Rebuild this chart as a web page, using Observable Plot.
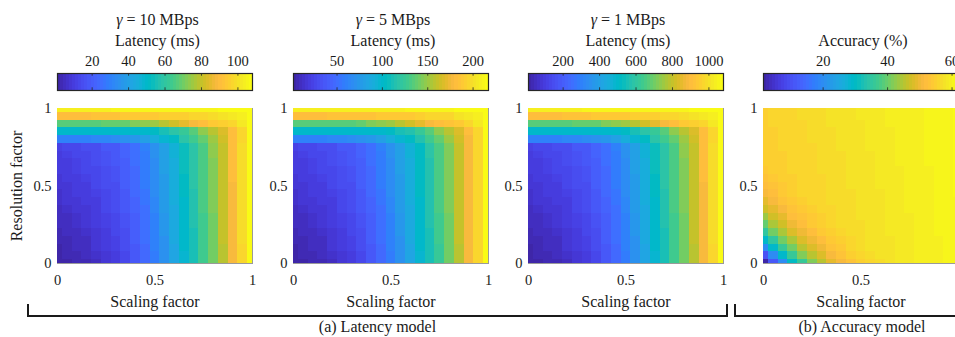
<!DOCTYPE html>
<html><head><meta charset="utf-8">
<script src="https://cdn.jsdelivr.net/npm/d3@7"></script>
<script src="https://cdn.jsdelivr.net/npm/@observablehq/plot@0.6"></script>
<style>
html,body{margin:0;padding:0;background:#fff;}
#fig{position:relative;width:955px;height:337px;overflow:hidden;background:#fff;font-family:'Liberation Serif','Times New Roman',serif;color:#1a1a1a;}
#fig > svg, #fig > div{position:absolute;}
#fig [aria-label="x-axis label"] text, #fig [aria-label="y-axis label"] text{font-size:16px;}
</style></head>
<body><div id="fig"></div>
<script>
// ---------------- data ----------------
const scalingFactor    = [0,0.05,0.1,0.15,0.2,0.25,0.3,0.35,0.4,0.45,0.5,0.55,0.6,0.65,0.7,0.75,0.8,0.85,0.9,0.95,1];
const resolutionFactor = [0,0.05,0.1,0.15,0.2,0.25,0.3,0.35,0.4,0.45,0.5,0.55,0.6,0.65,0.7,0.75,0.8,0.85,0.9,0.95,1];
const axisTicks = [0, 0.5, 1];

// rows: resolution factor 0 -> 1 ; columns: scaling factor 0 -> 1
const latency10 = [
[1,2,3,4,6,8,11,14,18,23,29,35,42,49,56,63,71,79,89,97,108],
[2,3,4,5,7,9,11,14,19,24,29,36,42,49,56,63,71,79,89,97,108],
[2,4,5,6,8,10,12,15,19,24,30,36,42,50,56,63,71,79,89,97,108],
[3,4,5,6,8,10,12,16,20,25,30,36,43,50,56,64,71,80,89,98,108],
[4,5,6,7,9,11,13,16,20,25,31,37,43,50,56,64,71,80,89,98,108],
[5,6,7,8,10,12,13,17,21,26,31,37,43,51,57,64,71,80,89,98,108],
[5,6,7,8,10,12,14,17,21,26,31,37,44,51,57,64,71,80,89,98,108],
[6,7,8,9,11,13,15,18,22,26,32,38,44,51,57,65,72,80,89,98,108],
[7,8,9,10,11,14,15,18,22,27,32,38,45,51,57,65,72,80,89,98,108],
[7,8,10,11,12,14,16,19,23,27,33,38,45,52,57,65,72,80,89,98,108],
[8,9,10,11,13,15,16,20,23,28,33,39,45,52,58,65,72,81,89,98,108],
[9,10,11,12,13,16,17,20,24,28,34,39,46,52,58,65,72,81,90,98,108],
[10,11,12,13,14,16,17,21,24,29,34,40,46,53,58,66,72,81,90,98,108],
[10,11,12,13,15,17,18,21,25,29,34,40,46,53,58,66,72,81,90,98,108],
[11,12,13,14,15,17,19,22,25,29,35,40,47,53,59,66,73,81,90,98,108],
[12,13,14,15,16,18,19,22,26,30,35,41,47,53,59,66,73,81,90,98,108],
[30,30,31,31,32,32,33,35,37,41,45,49,52,58,64,69,75,82,90,97,108],
[50,50,50,50,50,51,51,51,51,51,52,55,58,62,67,74,79,84,91,97,108],
[67,67,67,67,67,68,68,69,72,74,76,79,82,86,89,91,93,95,97,102,108],
[91,91,91,91,92,92,92,93,93,94,94,95,95,96,97,97,98,101,102,104,108],
[104,104,104,104,104,104,105,105,105,105,105,105,106,106,106,106,106,107,107,107,108]];

const latency5 = [
[2,4,6,8,12,16,22,28,36,46,58,70,84,98,112,126,142,158,178,194,216],
[4,6,8,10,14,18,22,28,38,48,58,72,84,98,112,126,142,158,178,194,216],
[4,8,10,12,16,20,24,30,38,48,60,72,84,100,112,126,142,158,178,194,216],
[6,8,10,12,16,20,24,32,40,50,60,72,86,100,112,128,142,160,178,196,216],
[8,10,12,14,18,22,26,32,40,50,62,74,86,100,112,128,142,160,178,196,216],
[10,12,14,16,20,24,26,34,42,52,62,74,86,102,114,128,142,160,178,196,216],
[10,12,14,16,20,24,28,34,42,52,62,74,88,102,114,128,142,160,178,196,216],
[12,14,16,18,22,26,30,36,44,52,64,76,88,102,114,130,144,160,178,196,216],
[14,16,18,20,22,28,30,36,44,54,64,76,90,102,114,130,144,160,178,196,216],
[14,16,20,22,24,28,32,38,46,54,66,76,90,104,114,130,144,160,178,196,216],
[16,18,20,22,26,30,32,40,46,56,66,78,90,104,116,130,144,162,178,196,216],
[18,20,22,24,26,32,34,40,48,56,68,78,92,104,116,130,144,162,180,196,216],
[20,22,24,26,28,32,34,42,48,58,68,80,92,106,116,132,144,162,180,196,216],
[20,22,24,26,30,34,36,42,50,58,68,80,92,106,116,132,144,162,180,196,216],
[22,24,26,28,30,34,38,44,50,58,70,80,94,106,118,132,146,162,180,196,216],
[24,26,28,30,32,36,38,44,52,60,70,82,94,106,118,132,146,162,180,196,216],
[60,60,62,62,64,64,66,70,74,82,90,98,104,116,128,138,150,164,180,194,216],
[100,100,100,100,100,102,102,102,102,102,104,110,116,124,134,148,158,168,182,194,216],
[134,134,134,134,134,136,136,138,144,148,152,158,164,172,178,182,186,190,194,204,216],
[182,182,182,182,184,184,184,186,186,188,188,190,190,192,194,194,196,202,204,208,216],
[208,208,208,208,208,208,210,210,210,210,210,210,212,212,212,212,212,214,214,214,217]];

const latency1 = [
[10,20,30,40,60,80,110,140,180,230,290,350,420,490,560,630,710,790,890,970,1080],
[20,30,40,50,70,90,110,140,190,240,290,360,420,490,560,630,710,790,890,970,1080],
[20,40,50,60,80,100,120,150,190,240,300,360,420,500,560,630,710,790,890,970,1080],
[30,40,50,60,80,100,120,160,200,250,300,360,430,500,560,640,710,800,890,980,1080],
[40,50,60,70,90,110,130,160,200,250,310,370,430,500,560,640,710,800,890,980,1080],
[50,60,70,80,100,120,130,170,210,260,310,370,430,510,570,640,710,800,890,980,1080],
[50,60,70,80,100,120,140,170,210,260,310,370,440,510,570,640,710,800,890,980,1080],
[60,70,80,90,110,130,150,180,220,260,320,380,440,510,570,650,720,800,890,980,1080],
[70,80,90,100,110,140,150,180,220,270,320,380,450,510,570,650,720,800,890,980,1080],
[70,80,100,110,120,140,160,190,230,270,330,380,450,520,570,650,720,800,890,980,1080],
[80,90,100,110,130,150,160,200,230,280,330,390,450,520,580,650,720,810,890,980,1080],
[90,100,110,120,130,160,170,200,240,280,340,390,460,520,580,650,720,810,900,980,1080],
[100,110,120,130,140,160,170,210,240,290,340,400,460,530,580,660,720,810,900,980,1080],
[100,110,120,130,150,170,180,210,250,290,340,400,460,530,580,660,720,810,900,980,1080],
[110,120,130,140,150,170,190,220,250,290,350,400,470,530,590,660,730,810,900,980,1080],
[120,130,140,150,160,180,190,220,260,300,350,410,470,530,590,660,730,810,900,980,1080],
[300,300,310,310,320,320,330,350,370,410,450,490,520,580,640,690,750,820,900,970,1080],
[500,500,500,500,500,510,510,510,510,510,520,550,580,620,670,740,790,840,910,970,1080],
[670,670,670,670,670,680,680,690,720,740,760,790,820,860,890,910,930,950,970,1020,1080],
[910,910,910,910,920,920,920,930,930,940,940,950,950,960,970,970,980,1010,1020,1040,1080],
[1040,1040,1040,1040,1040,1040,1050,1050,1050,1050,1050,1050,1060,1060,1060,1060,1060,1070,1070,1070,1080]];

const accuracy = [
[1.5,11.0,20.4,29.9,36.3,41.6,45.6,49.0,51.2,53.4,55.0,56.0,57.0,58.0,58.4,58.8,59.2,59.6,60.0,60.4,60.8],
[10.7,20.2,29.6,36.1,41.3,45.3,48.7,50.9,53.1,54.7,55.7,56.7,57.7,58.1,58.5,58.9,59.3,59.7,60.0,60.4,60.8],
[19.9,29.4,35.8,41.0,45.0,48.4,50.6,52.8,54.4,55.4,56.4,57.4,57.8,58.2,58.5,58.9,59.3,59.7,60.1,60.5,60.9],
[29.1,35.5,40.7,44.7,48.2,50.3,52.5,54.1,55.1,56.1,57.1,57.5,57.8,58.2,58.6,59.0,59.4,59.7,60.1,60.5,60.9],
[35.3,40.5,44.5,47.9,50.1,52.3,53.8,54.8,55.8,56.8,57.2,57.5,57.9,58.3,58.7,59.0,59.4,59.8,60.2,60.5,60.9],
[40.2,44.2,47.6,49.8,52.0,53.6,54.5,55.5,56.5,56.9,57.2,57.6,58.0,58.3,58.7,59.1,59.5,59.8,60.2,60.6,60.9],
[44.0,47.4,49.5,51.7,53.3,54.3,55.2,56.2,56.6,57.0,57.3,57.7,58.0,58.4,58.8,59.1,59.5,59.9,60.2,60.6,61.0],
[47.1,49.3,51.5,53.0,54.0,55.0,55.9,56.3,56.7,57.0,57.4,57.7,58.1,58.5,58.8,59.2,59.6,59.9,60.3,60.6,61.0],
[49.1,51.2,52.8,53.8,54.7,55.7,56.0,56.4,56.7,57.1,57.5,57.8,58.2,58.5,58.9,59.2,59.6,60.0,60.3,60.7,61.0],
[51.0,52.5,53.5,54.5,55.4,55.8,56.1,56.5,56.8,57.2,57.5,57.9,58.2,58.6,59.0,59.3,59.7,60.0,60.4,60.7,61.1],
[52.3,53.3,54.2,55.2,55.5,55.9,56.2,56.6,56.9,57.3,57.6,58.0,58.3,58.7,59.0,59.4,59.7,60.1,60.4,60.7,61.1],
[53.0,54.0,54.9,55.3,55.6,56.0,56.3,56.7,57.0,57.3,57.7,58.0,58.4,58.7,59.1,59.4,59.7,60.1,60.4,60.8,61.1],
[53.8,54.7,55.1,55.4,55.7,56.1,56.4,56.7,57.1,57.4,57.8,58.1,58.4,58.8,59.1,59.5,59.8,60.1,60.5,60.8,61.2],
[54.5,54.8,55.2,55.5,55.8,56.2,56.5,56.8,57.2,57.5,57.8,58.2,58.5,58.8,59.2,59.5,59.8,60.2,60.5,60.8,61.2],
[54.6,54.9,55.3,55.6,55.9,56.2,56.6,56.9,57.2,57.6,57.9,58.2,58.6,58.9,59.2,59.6,59.9,60.2,60.5,60.9,61.2],
[54.7,55.1,55.4,55.7,56.0,56.3,56.7,57.0,57.3,57.6,58.0,58.3,58.6,58.9,59.3,59.6,59.9,60.2,60.6,60.9,61.2],
[54.9,55.2,55.5,55.8,56.2,56.5,56.8,57.1,57.4,57.8,58.1,58.4,58.7,59.0,59.4,59.7,60.0,60.3,60.6,61.0,61.3],
[55.0,55.3,55.6,56.0,56.3,56.6,56.9,57.2,57.5,57.8,58.2,58.5,58.8,59.1,59.4,59.7,60.1,60.4,60.7,61.0,61.3],
[55.1,55.4,55.7,56.0,56.3,56.7,57.0,57.3,57.6,57.9,58.2,58.5,58.8,59.2,59.5,59.8,60.1,60.4,60.7,61.0,61.3],
[55.2,55.5,55.8,56.1,56.4,56.7,57.0,57.3,57.7,58.0,58.3,58.6,58.9,59.2,59.5,59.8,60.1,60.4,60.7,61.0,61.3],
[55.3,55.6,55.9,56.2,56.5,56.8,57.1,57.4,57.7,58.0,58.3,58.6,58.9,59.2,59.5,59.8,60.1,60.4,60.7,61.0,62.0]];

const bandwidthLabels = ["10 MBps", "5 MBps", "1 MBps"];
const colorbarTitles  = ["Latency (ms)", "Latency (ms)", "Latency (ms)", "Accuracy (%)"];
const colorbarTicks   = [[20,40,60,80,100],[50,100,150,200],[200,400,600,800,1000],[20,40,60]];
const groupCaptions   = ["(a) Latency model", "(b) Accuracy model"];

// MATLAB parula (64 levels)
const parulaRGB = [
[0.2422,0.1504,0.6603],[0.2504,0.1650,0.7076],[0.2578,0.1818,0.7511],[0.2647,0.1978,0.7952],
[0.2706,0.2147,0.8364],[0.2751,0.2342,0.8710],[0.2783,0.2559,0.8991],[0.2803,0.2782,0.9221],
[0.2813,0.3006,0.9414],[0.2810,0.3228,0.9579],[0.2795,0.3447,0.9717],[0.2760,0.3667,0.9829],
[0.2699,0.3892,0.9906],[0.2602,0.4123,0.9952],[0.2440,0.4358,0.9988],[0.2206,0.4603,0.9973],
[0.1963,0.4847,0.9892],[0.1834,0.5074,0.9798],[0.1786,0.5289,0.9682],[0.1764,0.5499,0.9520],
[0.1687,0.5703,0.9359],[0.1540,0.5902,0.9218],[0.1460,0.6091,0.9079],[0.1380,0.6276,0.8973],
[0.1248,0.6459,0.8883],[0.1113,0.6635,0.8763],[0.0952,0.6798,0.8598],[0.0689,0.6948,0.8394],
[0.0297,0.7082,0.8163],[0.0036,0.7203,0.7917],[0.0067,0.7312,0.7660],[0.0433,0.7411,0.7394],
[0.0964,0.7500,0.7120],[0.1408,0.7584,0.6842],[0.1717,0.7670,0.6554],[0.1938,0.7758,0.6251],
[0.2161,0.7843,0.5923],[0.2470,0.7918,0.5567],[0.2906,0.7973,0.5188],[0.3406,0.8008,0.4789],
[0.3909,0.8029,0.4354],[0.4456,0.8024,0.3909],[0.5044,0.7993,0.3480],[0.5616,0.7942,0.3045],
[0.6174,0.7876,0.2612],[0.6720,0.7793,0.2227],[0.7242,0.7698,0.1910],[0.7738,0.7598,0.1646],
[0.8203,0.7498,0.1535],[0.8634,0.7406,0.1596],[0.9035,0.7330,0.1774],[0.9393,0.7288,0.2100],
[0.9728,0.7298,0.2394],[0.9956,0.7434,0.2371],[0.9970,0.7659,0.2199],[0.9952,0.7893,0.2028],
[0.9892,0.8136,0.1885],[0.9793,0.8386,0.1766],[0.9676,0.8639,0.1643],[0.9610,0.8890,0.1537],
[0.9597,0.9135,0.1423],[0.9628,0.9373,0.1265],[0.9691,0.9606,0.1064],[0.9769,0.9839,0.0805]];
const parulaHex = parulaRGB.map(([r,g,b]) => d3.rgb(r*255, g*255, b*255).formatHex());
const parula = t => parulaHex[Math.max(0, Math.min(parulaHex.length - 1, Math.floor(t * parulaHex.length)))];

// ---------------- layout ----------------
const fig = document.getElementById("fig");
const FONT = "'Liberation Serif', 'Times New Roman', serif";
const INK = "#1a1a1a";
const plotLefts = [57, 292.5, 527.5, 762.5];
const PW = 195, PH = 155, PT = 107.5;

function place(el, left, top) { el.style.left = left + "px"; el.style.top = top + "px"; fig.appendChild(el); }

function heatmap(matrix, left, withYLabel) {
  const cells = [];
  resolutionFactor.forEach((r, i) => scalingFactor.forEach((s, j) => cells.push({s, r, v: matrix[i][j]})));
  const hs = (scalingFactor[1] - scalingFactor[0]) / 2;
  const hr = (resolutionFactor[1] - resolutionFactor[0]) / 2;
  const ext = d3.extent(cells, d => d.v);
  const mL = withYLabel ? 57 : 42, mT = 10, mB = 50, mR = 6;
  const p = Plot.plot({
    width: mL + PW + mR, height: mT + PH + mB,
    marginLeft: mL, marginRight: mR, marginTop: mT, marginBottom: mB,
    style: {fontFamily: FONT, fontSize: "14.5px", color: INK, background: "transparent", overflow: "visible"},
    x: {domain: [0, 1]},
    y: {domain: [0, 1]},
    color: {type: "linear", domain: ext, interpolate: parula},
    marks: [
      Plot.frame({stroke: "#9a9a9a"}),
      Plot.rect(cells, {x1: d => d.s - hs, x2: d => d.s + hs, y1: d => d.r - hr, y2: d => d.r + hr,
                        fill: "v", clip: true, shapeRendering: "crispEdges"}),
      Plot.axisX({ticks: axisTicks, tickFormat: d => String(d), tickSize: 0, tickPadding: 11,
                  label: "Scaling factor", labelAnchor: "center", labelArrow: "none", labelOffset: 43}),
      Plot.axisY({ticks: axisTicks, tickFormat: d => String(d), tickSize: 0, tickPadding: 6,
                  label: withYLabel ? "Resolution factor" : null, labelAnchor: "center", labelArrow: "none", labelOffset: 47})
    ]
  });
  place(p, left - mL, PT - mT);
  return ext;
}

function colorbar(ext, ticks, left) {
  const n = parulaHex.length;
  const bins = d3.range(n).map(i => ({
    x1: ext[0] + (ext[1] - ext[0]) * i / n,
    x2: ext[0] + (ext[1] - ext[0]) * (i + 1) / n,
    v:  ext[0] + (ext[1] - ext[0]) * (i + 0.5) / n
  }));
  const mL = 12, mR = 12, mT = 25, mB = 4, H = 17;
  const p = Plot.plot({
    width: mL + PW + mR, height: mT + H + mB,
    marginLeft: mL, marginRight: mR, marginTop: mT, marginBottom: mB,
    style: {fontFamily: FONT, fontSize: "14.5px", color: INK, background: "transparent", overflow: "visible"},
    x: {domain: ext},
    y: {domain: [0, 1], axis: null},
    color: {type: "linear", domain: ext, interpolate: parula},
    marks: [
      Plot.rect(bins, {x1: "x1", x2: "x2", y1: 0, y2: 1, fill: "v", shapeRendering: "crispEdges"}),
      Plot.ruleX(ticks, {y1: 1, y2: 0.84, stroke: "#262626", strokeWidth: 0.8}),
      Plot.ruleX(ticks, {y1: 0, y2: 0.16, stroke: "#262626", strokeWidth: 0.8}),
      Plot.frame({stroke: "#262626", strokeWidth: 1.2}),
      Plot.axisX({anchor: "top", ticks, tickFormat: d => String(d), tickSize: 0, tickPadding: 8, label: null})
    ]
  });
  place(p, left - mL, 73 - mT);
}

const matrices = [latency10, latency5, latency1, accuracy];
matrices.forEach((m, i) => {
  const ext = heatmap(m, plotLefts[i], i === 0);
  colorbar(ext, colorbarTicks[i], plotLefts[i]);
});

// titles, group brackets and captions
const svg = d3.create("svg").attr("width", 955).attr("height", 337)
  .style("left", "0px").style("top", "0px").style("pointer-events", "none")
  .attr("font-family", FONT).attr("fill", INK);
plotLefts.forEach((L, i) => {
  const cx = L + PW / 2 + 3;
  if (i < 3) {
    const t = svg.append("text").attr("x", cx).attr("y", 25).attr("text-anchor", "middle").attr("font-size", 16);
    t.append("tspan").attr("font-style", "italic").text("γ");
    t.append("tspan").text(" = " + bandwidthLabels[i]);
  }
  svg.append("text").attr("x", cx).attr("y", 45.7).attr("text-anchor", "middle").attr("font-size", 16).text(colorbarTitles[i]);
});
svg.append("path").attr("d", "M28,304V316H727V304").attr("fill", "none").attr("stroke", INK).attr("stroke-width", 2);
svg.append("path").attr("d", "M735,304V316H990V304").attr("fill", "none").attr("stroke", INK).attr("stroke-width", 2);
svg.append("text").attr("x", 377.5).attr("y", 332).attr("text-anchor", "middle").attr("font-size", 16).text(groupCaptions[0]);
svg.append("text").attr("x", 862).attr("y", 332).attr("text-anchor", "middle").attr("font-size", 16).text(groupCaptions[1]);
fig.appendChild(svg.node());
</script></body></html>
